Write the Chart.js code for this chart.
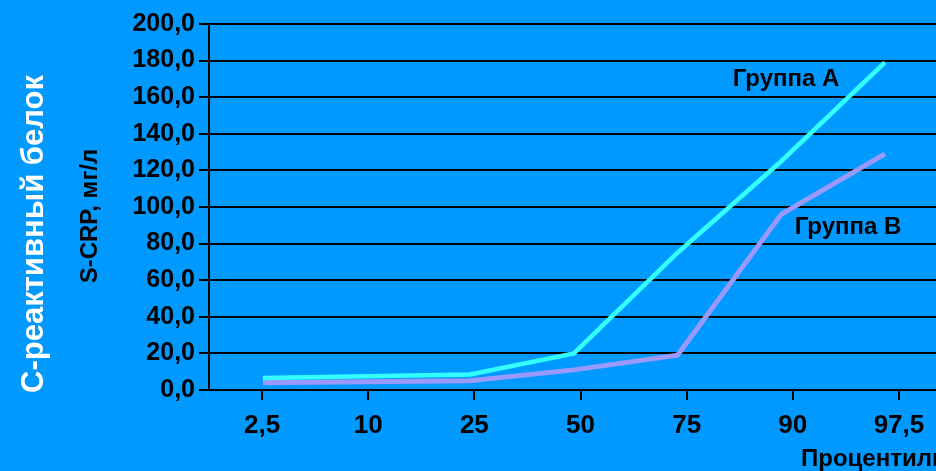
<!DOCTYPE html>
<html>
<head>
<meta charset="utf-8">
<script src="https://cdn.jsdelivr.net/npm/chart.js@4.4.1/dist/chart.umd.min.js"></script>
<style>
  html, body { margin: 0; padding: 0; background: #0099ff; overflow: hidden; }
  #wrap { position: relative; width: 952px; height: 471px; }
</style>
</head>
<body>
<div id="wrap"><canvas id="c"></canvas></div>
<script>
// Percentile categories shown along the bottom axis
const percentiles = ['2,5', '10', '25', '50', '75', '90', '97,5'];
// S-CRP, mg/l by percentile
const groupA = [6.5, 7.5, 8.5, 20, 75, 125, 179];
const groupB = [4, 4.5, 5, 11, 19, 96, 129];
// Value axis ticks
const yTicks = [0, 20, 40, 60, 80, 100, 120, 140, 160, 180, 200];

const FONT = '"Liberation Sans", Arial, sans-serif';
const fmt = v => v.toFixed(1).replace('.', ',');

const toPoints = arr => arr.map((v, i) => ({ x: i, y: v }));

// Side titles, series captions and the axis caption
const textPlugin = {
  id: 'captions',
  afterDraw(chart) {
    const ctx = chart.ctx;
    ctx.save();
    ctx.textAlign = 'center';
    ctx.textBaseline = 'middle';

    ctx.save();
    ctx.translate(34, 234);
    ctx.rotate(-Math.PI / 2);
    ctx.fillStyle = '#ffffff';
    ctx.font = 'bold 31px ' + FONT;
    ctx.fillText('С-реактивный белок', 0, 0);
    ctx.restore();

    ctx.save();
    ctx.translate(90, 216);
    ctx.rotate(-Math.PI / 2);
    ctx.fillStyle = '#000000';
    ctx.font = 'bold 24px ' + FONT;
    ctx.fillText('S-CRP, мг/л', 0, 0);
    ctx.restore();

    ctx.fillStyle = '#000000';
    ctx.font = 'bold 24px ' + FONT;
    ctx.fillText('Группа А', 786, 79);
    ctx.fillText('Группа В', 848, 227);

    ctx.textAlign = 'left';
    ctx.fillText('Процентили', 801, 459);
    ctx.restore();
  }
};

new Chart(document.getElementById('c'), {
  type: 'line',
  data: {
    labels: percentiles,
    datasets: [
      {
        label: 'Группа А',
        data: toPoints(groupA),
        xAxisID: 'xs',
        borderColor: '#33ffff',
        borderWidth: 4.5,
        pointRadius: 0,
        tension: 0,
        order: 1
      },
      {
        label: 'Группа В',
        data: toPoints(groupB),
        xAxisID: 'xs',
        borderColor: '#9999ff',
        borderWidth: 5,
        pointRadius: 0,
        tension: 0,
        order: 2
      }
    ]
  },
  options: {
    responsive: true,
    maintainAspectRatio: false,
    animation: false,
    layout: { padding: { top: 24, left: 0, right: 0, bottom: 0 } },
    plugins: { legend: { display: false }, tooltip: { enabled: false } },
    scales: {
      x: {
        type: 'category',
        position: 'bottom',
        offset: true,
        border: { display: false },
        grid: {
          display: true,
          offset: false,
          drawOnChartArea: false,
          drawTicks: true,
          tickLength: 10,
          color: '#000000',
          lineWidth: 2
        },
        ticks: {
          color: '#000000',
          font: { family: FONT, size: 26, weight: 'bold' },
          padding: 10,
          maxRotation: 0,
          autoSkip: false
        },
        afterFit(scale) { scale.height = 81; }
      },
      xs: {
        type: 'linear',
        display: false,
        min: -0.519,
        max: 6.647
      },
      y: {
        type: 'linear',
        min: 0,
        max: 200,
        afterBuildTicks(scale) { scale.ticks = yTicks.map(v => ({ value: v })); },
        border: { display: true, color: '#000000', width: 2 },
        grid: {
          color: '#000000',
          lineWidth: 2,
          drawTicks: true,
          tickLength: 10
        },
        ticks: {
          color: '#000000',
          font: { family: FONT, size: 25, weight: 'bold' },
          padding: 4,
          callback: v => fmt(v)
        },
        afterFit(scale) { scale.width = 209; }
      }
    }
  },
  plugins: [textPlugin]
});
</script>
</body>
</html>
